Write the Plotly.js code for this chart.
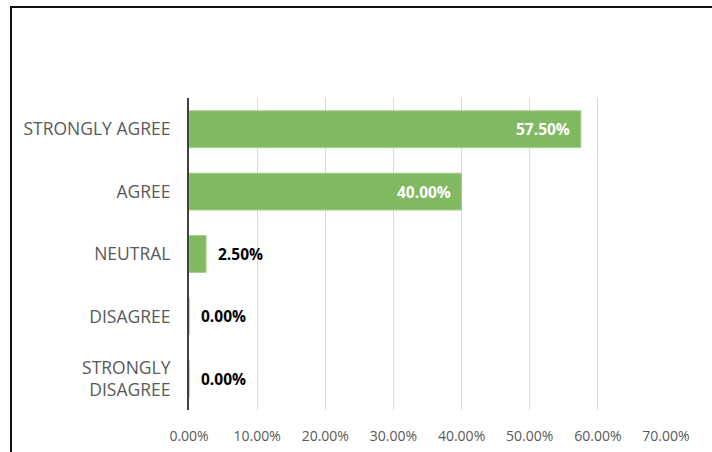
<!DOCTYPE html>
<html>
<head>
<meta charset="utf-8">
<script src="https://cdn.plot.ly/plotly-3.0.1.min.js"></script>
<style>
html,body{margin:0;padding:0;background:#fff;overflow:hidden;}
#wrap{position:relative;width:712px;height:452px;}
#chart{position:absolute;left:0;top:0;width:712px;height:452px;}
#frame{position:absolute;left:10px;top:6px;width:720px;height:460px;border-top:2px solid #111;border-left:2px solid #111;pointer-events:none;}
</style>
</head>
<body>
<div id="wrap"><div id="chart"></div><div id="frame"></div></div>
<script>
const categories = ["STRONGLY AGREE", "AGREE", "NEUTRAL", "DISAGREE", "STRONGLY<br>DISAGREE"];
const values = [57.5, 40.0, 2.5, 0.0, 0.0];
const tickValues = [0, 10, 20, 30, 40, 50, 60, 70];
const tickLabels = ["0.00%", "10.00%", "20.00%", "30.00%", "40.00%", "50.00%", "60.00%", "70.00%"];

const labels = values.map(v => v.toFixed(2) + "%");

const trace = {
  type: "bar",
  orientation: "h",
  y: categories,
  x: values,
  marker: {color: "#80B962", line: {color: "#A3CF8C", width: 1}},
  hoverinfo: "none"
};

const annotations = values.map((v, i) => {
  const inside = v > 10;
  return {
    x: v, y: categories[i], xref: "x", yref: "y",
    text: labels[i],
    showarrow: false,
    xanchor: inside ? "right" : "left",
    xshift: inside ? -9 : 10,
    font: {family: "Open Sans, sans-serif", size: 15.5, weight: "bold", color: inside ? "#ffffff" : "#000000"}
  };
});

const layout = {
  width: 712, height: 452,
  margin: {l: 189, r: 46, t: 98, b: 42},
  paper_bgcolor: "#ffffff",
  plot_bgcolor: "#ffffff",
  showlegend: false,
  bargap: 0.41,
  font: {family: "Open Sans, sans-serif", color: "#595959"},
  annotations: annotations,
  xaxis: {
    range: [0, 70],
    tickvals: tickValues,
    ticktext: tickLabels,
    showgrid: true,
    gridcolor: "#d9d9d9",
    gridwidth: 1,
    zeroline: false,
    showline: false,
    ticks: "outside",
    ticklen: 13,
    tickcolor: "rgba(0,0,0,0)",
    tickfont: {size: 14, color: "#595959"},
    fixedrange: true
  },
  yaxis: {
    autorange: "reversed",
    showline: true,
    linecolor: "#404040",
    linewidth: 2,
    showgrid: false,
    zeroline: false,
    ticks: "outside",
    ticklen: 13,
    tickcolor: "rgba(0,0,0,0)",
    tickfont: {size: 17.5, color: "#595959"},
    fixedrange: true
  }
};

Plotly.newPlot("chart", [trace], layout, {displayModeBar: false, staticPlot: true});
</script>
</body>
</html>
